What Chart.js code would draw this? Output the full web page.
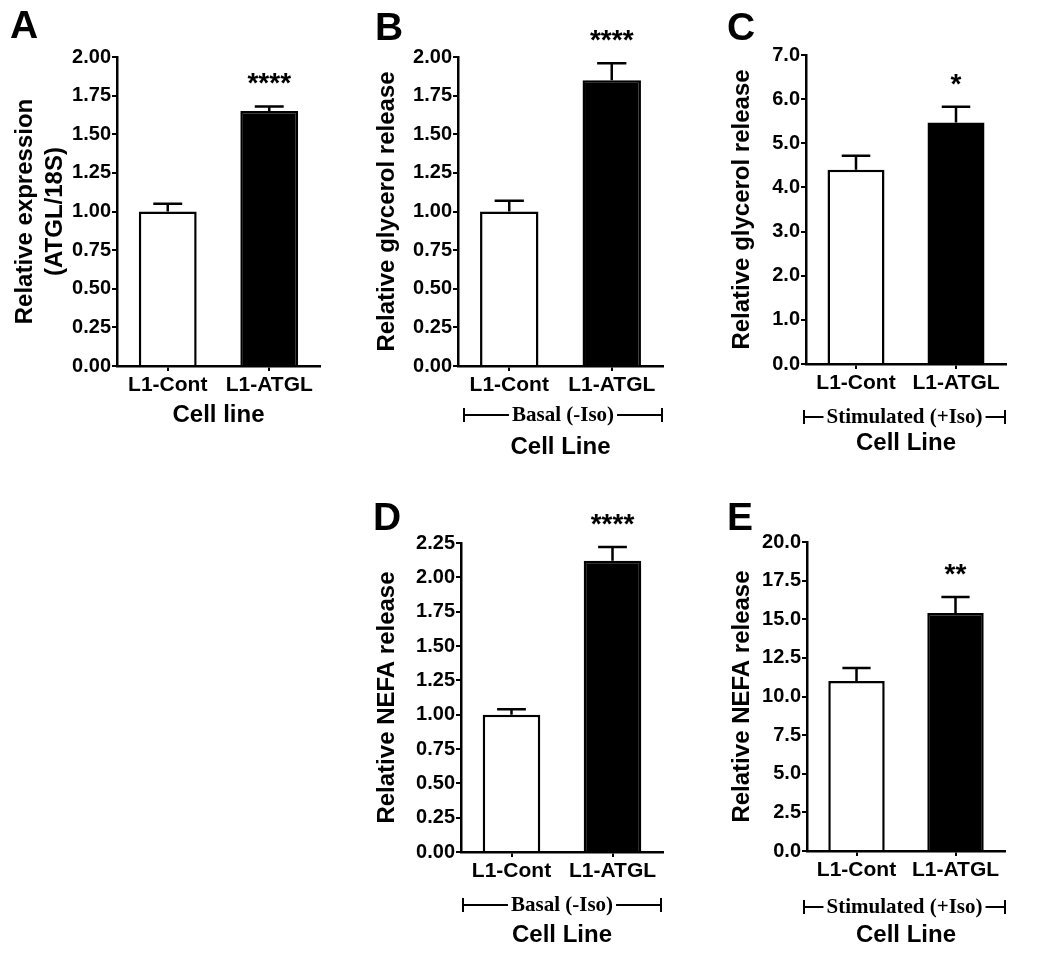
<!DOCTYPE html>
<html>
<head>
<meta charset="utf-8">
<script src="https://cdn.jsdelivr.net/npm/chart.js@4.4.1/dist/chart.umd.min.js"></script>
<style>
  html, body { margin: 0; padding: 0; background: #fff; }
  #wrap { position: relative; width: 1050px; height: 960px; }
  canvas { position: absolute; }
</style>
</head>
<body>
<div id="wrap">
  <canvas id="panelA"></canvas>
  <canvas id="panelB"></canvas>
  <canvas id="panelC"></canvas>
  <canvas id="panelD"></canvas>
  <canvas id="panelE"></canvas>
</div>
<script>
const categories = ['L1-Cont', 'L1-ATGL'];

// A: ATGL mRNA
const expressionMean = [1.0, 1.65];
const expressionSem = [0.05, 0.03];
const expressionStars = ['', '****'];

// B / C: glycerol release
const glycerolBasalMean = [1.0, 1.85];
const glycerolBasalSem = [0.07, 0.11];
const glycerolBasalStars = ['', '****'];

const glycerolStimMean = [4.40, 5.47];
const glycerolStimSem = [0.32, 0.36];
const glycerolStimStars = ['', '*'];

// D / E: NEFA release
const nefaBasalMean = [1.0, 2.12];
const nefaBasalSem = [0.04, 0.10];
const nefaBasalStars = ['', '****'];

const nefaStimMean = [11.0, 15.4];
const nefaStimSem = [0.84, 1.04];
const nefaStimStars = ['', '**'];

const SANS = '"Liberation Sans", Arial, Helvetica, sans-serif';
const SERIF = '"Liberation Serif", "Times New Roman", serif';
Chart.defaults.font.family = SANS;
Chart.defaults.color = '#000';

const X_TITLE_SIZE = 24;
const Y_TITLE_SIZE = 24;

const panelExtras = {
  id: 'panelExtras',
  afterDatasetsDraw(chart, args, opts) {
    const ctx = chart.ctx;
    const yScale = chart.scales.y;
    const meta = chart.getDatasetMeta(0);
    ctx.save();
    ctx.strokeStyle = '#000';
    ctx.fillStyle = '#000';
    ctx.lineWidth = 2.5;
    meta.data.forEach((bar, i) => {
      const mean = chart.data.datasets[0].data[i];
      const top = yScale.getPixelForValue(mean + opts.errs[i]);
      const base = yScale.getPixelForValue(mean);
      const half = bar.width * 0.25;
      ctx.beginPath();
      ctx.moveTo(bar.x, base);
      ctx.lineTo(bar.x, top);
      ctx.moveTo(bar.x - half, top);
      ctx.lineTo(bar.x + half, top);
      ctx.stroke();
      if (opts.stars[i]) {
        ctx.font = 'bold 28px ' + SANS;
        ctx.textAlign = 'center';
        ctx.textBaseline = 'alphabetic';
        ctx.fillText(opts.stars[i], bar.x, top - 14);
      }
    });
    ctx.restore();
  },
  afterDraw(chart, args, opts) {
    const ctx = chart.ctx;
    ctx.save();
    ctx.fillStyle = '#000';
    ctx.strokeStyle = '#000';
    // panel letter
    ctx.font = 'bold 39px ' + SANS;
    ctx.textAlign = 'left';
    ctx.textBaseline = 'alphabetic';
    ctx.fillText(opts.letter.text, opts.letter.x, opts.letter.y);
    // condition bracket
    if (opts.bracket) {
      const b = opts.bracket;
      ctx.font = 'bold 21px ' + SERIF;
      ctx.textAlign = 'center';
      ctx.textBaseline = 'middle';
      const mid = (b.x1 + b.x2) / 2;
      const tw = ctx.measureText(b.text).width;
      ctx.fillText(b.text, mid, b.y + 1);
      ctx.lineWidth = 2;
      ctx.beginPath();
      ctx.moveTo(b.x1, b.y);
      ctx.lineTo(mid - tw / 2 - 3, b.y);
      ctx.moveTo(mid + tw / 2 + 3, b.y);
      ctx.lineTo(b.x2, b.y);
      ctx.moveTo(b.x1, b.y - 7);
      ctx.lineTo(b.x1, b.y + 7);
      ctx.moveTo(b.x2, b.y - 7);
      ctx.lineTo(b.x2, b.y + 7);
      ctx.stroke();
    }
    ctx.restore();
  }
};

function makePanel(p) {
  const canvas = document.getElementById(p.id);
  canvas.width = p.w;
  canvas.height = p.h;
  canvas.style.left = p.x + 'px';
  canvas.style.top = p.y + 'px';

  const xTitleLH = X_TITLE_SIZE * 1.2;
  const yTitleLH = Y_TITLE_SIZE * 1.25;
  const xH = p.xTitleY - p.area.b + xTitleLH / 2;
  const yW = p.area.l - p.x;

  new Chart(canvas, {
    type: 'bar',
    data: {
      labels: categories,
      datasets: [{
        data: p.means,
        backgroundColor: ['#ffffff', '#000000'],
        borderColor: '#000',
        borderWidth: 2.5,
        categoryPercentage: 1,
        barPercentage: 0.57
      }]
    },
    options: {
      responsive: false,
      animation: false,
      devicePixelRatio: 1,
      layout: {
        padding: {
          left: 0,
          top: p.area.t - p.y,
          right: p.x + p.w - p.area.r,
          bottom: p.y + p.h - p.area.b - xH
        }
      },
      plugins: {
        legend: { display: false },
        tooltip: { enabled: false },
        panelExtras: {
          errs: p.errs,
          stars: p.stars,
          letter: { text: p.letter, x: p.letterX - p.x, y: p.letterY - p.y },
          bracket: p.bracket ? {
            text: p.bracket.text,
            y: p.bracket.y - p.y,
            x1: p.bracket.x1 - p.x,
            x2: p.bracket.x2 - p.x
          } : null
        }
      },
      scales: {
        x: {
          grid: { offset: false, drawOnChartArea: false, color: '#000', lineWidth: 2, tickLength: 5 },
          border: { color: '#000', width: 2.5 },
          ticks: { font: { size: 21, weight: 'bold' }, color: '#000', padding: 2, maxRotation: 0 },
          title: { display: true, text: p.xTitle, font: { size: X_TITLE_SIZE, weight: 'bold', lineHeight: 1.2 }, color: '#000', padding: 0 },
          afterFit(s) { s.height = xH; }
        },
        y: {
          min: 0,
          max: p.yMax,
          grid: { drawOnChartArea: false, color: '#000', lineWidth: 2, tickLength: 5 },
          border: { color: '#000', width: 2.5 },
          ticks: {
            stepSize: p.yStep,
            autoSkip: false,
            font: { size: 20, weight: 'bold' },
            color: '#000',
            padding: 1,
            callback: v => Number(v).toFixed(p.decimals)
          },
          title: {
            display: true,
            text: p.yTitle,
            font: { size: Y_TITLE_SIZE, weight: 'bold', lineHeight: 1.25 },
            color: '#000',
            padding: { top: p.yTitleX - p.x - yTitleLH / 2, bottom: 0 }
          },
          afterFit(s) { s.width = yW; }
        }
      }
    },
    plugins: [panelExtras]
  });
}

makePanel({
  id: 'panelA', x: 0, y: 0, w: 340, h: 460,
  area: { l: 117, t: 57, r: 320, b: 366 },
  means: expressionMean, errs: expressionSem, stars: expressionStars,
  yMax: 2, yStep: 0.25, decimals: 2,
  yTitle: ['Relative expression', '(ATGL/18S)'], yTitleX: 25,
  xTitle: 'Cell line', xTitleY: 415,
  letter: 'A', letterX: 10, letterY: 38
});

makePanel({
  id: 'panelB', x: 340, y: 0, w: 340, h: 470,
  area: { l: 458, t: 57, r: 663, b: 366 },
  means: glycerolBasalMean, errs: glycerolBasalSem, stars: glycerolBasalStars,
  yMax: 2, yStep: 0.25, decimals: 2,
  yTitle: 'Relative glycerol release', yTitleX: 387,
  xTitle: 'Cell Line', xTitleY: 447,
  bracket: { text: 'Basal (-Iso)', y: 415, x1: 464, x2: 662 },
  letter: 'B', letterX: 375, letterY: 40
});

makePanel({
  id: 'panelC', x: 680, y: 0, w: 370, h: 470,
  area: { l: 806, t: 55, r: 1006, b: 364 },
  means: glycerolStimMean, errs: glycerolStimSem, stars: glycerolStimStars,
  yMax: 7, yStep: 1, decimals: 1,
  yTitle: 'Relative glycerol release', yTitleX: 742,
  xTitle: 'Cell Line', xTitleY: 443,
  bracket: { text: 'Stimulated (+Iso)', y: 417, x1: 804, x2: 1005 },
  letter: 'C', letterX: 727, letterY: 40
});

makePanel({
  id: 'panelD', x: 340, y: 480, w: 340, h: 480,
  area: { l: 461, t: 543, r: 663, b: 852 },
  means: nefaBasalMean, errs: nefaBasalSem, stars: nefaBasalStars,
  yMax: 2.25, yStep: 0.25, decimals: 2,
  yTitle: 'Relative NEFA release', yTitleX: 387,
  xTitle: 'Cell Line', xTitleY: 935,
  bracket: { text: 'Basal (-Iso)', y: 905, x1: 463, x2: 661 },
  letter: 'D', letterX: 373, letterY: 530
});

makePanel({
  id: 'panelE', x: 680, y: 480, w: 370, h: 480,
  area: { l: 807, t: 542, r: 1005, b: 851 },
  means: nefaStimMean, errs: nefaStimSem, stars: nefaStimStars,
  yMax: 20, yStep: 2.5, decimals: 1,
  yTitle: 'Relative NEFA release', yTitleX: 742,
  xTitle: 'Cell Line', xTitleY: 935,
  bracket: { text: 'Stimulated (+Iso)', y: 907, x1: 804, x2: 1005 },
  letter: 'E', letterX: 727, letterY: 530
});
</script>
</body>
</html>
